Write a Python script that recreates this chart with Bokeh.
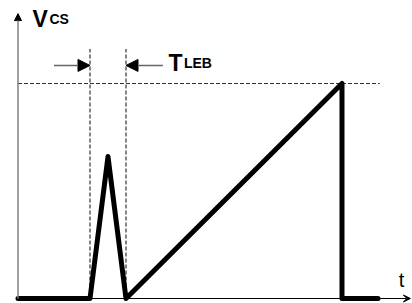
from bokeh.plotting import figure
from bokeh.models import Range1d, Arrow, NormalHead, VeeHead
from bokeh.core.properties import value
from bokeh.embed import file_html
from bokeh.resources import INLINE

# Waveform data (time units, voltage units)
wave_t = [0, 4, 5, 6, 18, 18, 20]
wave_v = [0, 0, 6.6, 0, 10, 0, 0]
threshold_v = 10
leb_start = 4
leb_end = 6
t_axis_end = 21.8
v_axis_end = 13.25

p = figure(width=412, height=303, output_backend="svg", toolbar_location=None,
           x_range=Range1d(-0.972, 21.917), y_range=Range1d(-0.2326, 13.86),
           min_border=0)
p.axis.visible = False
p.grid.visible = False
p.outline_line_color = None
p.background_fill_color = "white"

dash_col = "#333333"
# threshold dashed line
p.line([0, 20.1], [threshold_v, threshold_v], line_color=dash_col, line_width=1.2, line_dash="4 2")
# LEB dashed verticals
for tx in (leb_start, leb_end):
    p.line([tx, tx], [0, 11.6], line_color=dash_col, line_width=1.2, line_dash="4 2")

# x axis
p.add_layout(Arrow(x_start=0, y_start=0, x_end=t_axis_end, y_end=0,
                   line_color="black", line_width=1,
                   end=VeeHead(size=7, line_color="black", line_width=1, fill_color="black")))
# y axis
p.add_layout(Arrow(x_start=0, y_start=0, x_end=0, y_end=v_axis_end,
                   line_color="#808080", line_width=1.5,
                   end=NormalHead(size=7, line_color="black", line_width=1, fill_color="black")))

# LEB dimension arrows
arr_v = 10.84
p.add_layout(Arrow(x_start=leb_start - 2, y_start=arr_v, x_end=leb_start, y_end=arr_v,
                   line_color="#666666", line_width=1.5,
                   end=NormalHead(size=12, line_color="black", fill_color="black")))
p.add_layout(Arrow(x_start=leb_end + 2.05, y_start=arr_v, x_end=leb_end, y_end=arr_v,
                   line_color="#666666", line_width=1.5,
                   end=NormalHead(size=12, line_color="black", fill_color="black")))

# waveform
p.line(wave_t, wave_v, line_color="black", line_width=5, line_join="round", line_cap="round")

font = value("Liberation Sans")
p.text([0.8], [13.02], text=["V"], text_font=font, text_font_size="23px",
       text_font_style="bold", text_baseline="alphabetic", text_color="black")
p.text([1.75], [13.02], text=["CS"], text_font=font, text_font_size="14px",
       text_font_style="bold", text_baseline="alphabetic", text_color="black")
p.text([8.36], [10.93], text=["T"], text_font=font, text_font_size="23px",
       text_font_style="bold", text_baseline="alphabetic", text_color="black")
p.text([9.22], [10.93], text=["LEB"], text_font=font, text_font_size="14px",
       text_font_style="bold", text_baseline="alphabetic", text_color="black")
p.text([21.15], [0.84], text=["t"], text_font=font, text_font_size="20px",
       text_baseline="alphabetic", text_color="black")

open("out.html", "w").write(file_html(p, INLINE))
